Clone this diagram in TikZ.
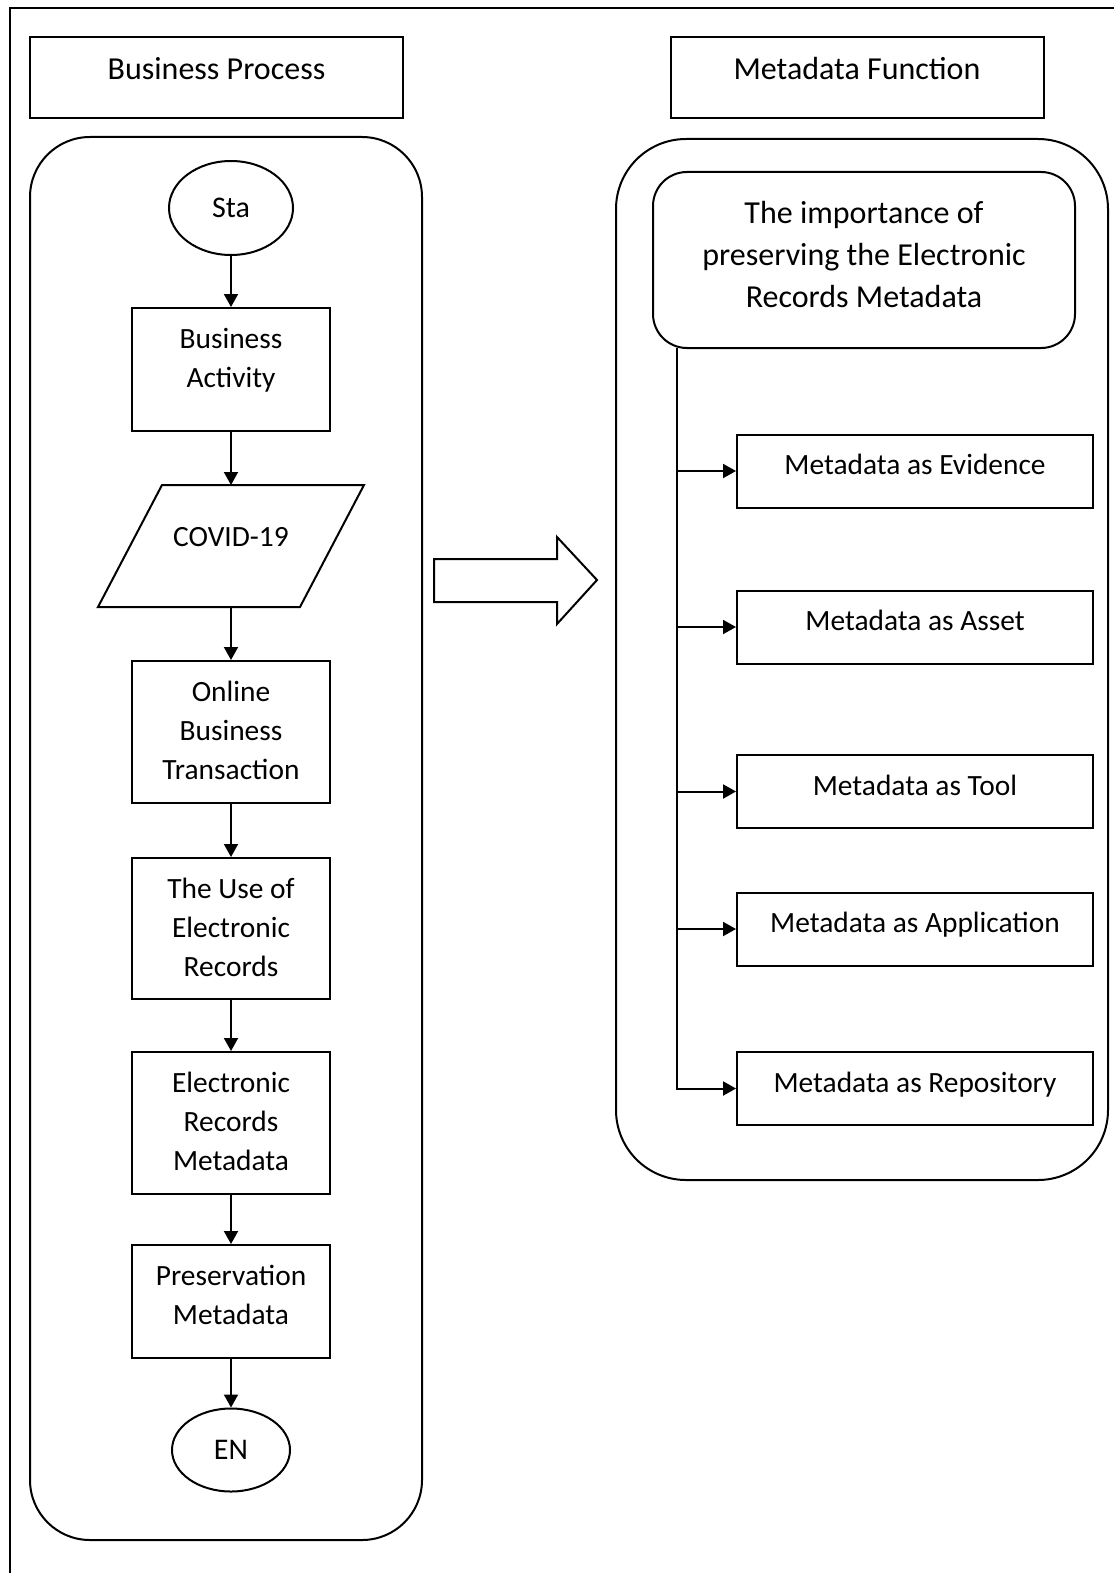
\documentclass[tikz,border=0pt]{standalone}
\usepackage{fontspec}
\setmainfont{Carlito}
\usetikzlibrary{shapes.geometric,arrows.meta}

\begin{document}
\begin{tikzpicture}[x=0.5pt, y=-0.5pt, line width=1pt,
  every node/.style={font=\fontsize{16pt}{19.5pt}\selectfont},
  procbox/.style={draw, rectangle, minimum width=99pt, inner sep=0pt},
  funcbox/.style={draw, rectangle, minimum width=178pt, minimum height=36.5pt, inner sep=0pt},
  headbox/.style={draw, rectangle, minimum width=186.5pt, minimum height=40.5pt, inner sep=0pt},
  boxtext/.style={below=10pt, inner sep=0pt, align=center, font=\fontsize{14.7pt}{19.5pt}\selectfont},
  headtext/.style={below=10pt, inner sep=0pt},
  term/.style={draw, ellipse, inner sep=0pt, font=\fontsize{15pt}{19.5pt}\selectfont},
  flow/.style={-{Triangle[length=6.5pt,width=7pt]}}]
\useasboundingbox (0,0) rectangle (1113,1573);

% Page frame
\draw[line width=1.2pt] (1130,8) -- (10,8) -- (10,1590);

% Headers
\node[headbox, label={[headtext]north:Business Process}] (bp) at (216.5,77.5) {};
\node[headbox, label={[headtext]north:Metadata Function}] (mf) at (857,77.5) {};

% Swimlanes
\draw[rounded corners=30pt] (30,137) rectangle (422,1540);
\draw[rounded corners=35pt] (616,139) rectangle (1108,1180);

% Business process
\node[term, minimum width=62pt, minimum height=47pt] (sta) at (231,208) {Sta};
\node[procbox, minimum height=61.5pt, label={[boxtext]north:Business\\Activity}] (act) at (231,369.5) {};
\node[minimum width=100pt, minimum height=60pt, inner sep=0pt] (cov) at (231,546) {};
\node[below=20.5pt, inner sep=0pt, font=\fontsize{14.7pt}{19.5pt}\selectfont] (covtxt) at (cov.north) {COVID-19};
\draw ([xshift=16pt]cov.north west) -- ([xshift=16pt]cov.north east)
  -- ([xshift=-16pt]cov.south east) -- ([xshift=-16pt]cov.south west) -- cycle;
\node[procbox, minimum height=71pt, label={[boxtext]north:Online\\Business\\Transaction}] (onl) at (231,732) {};
\node[procbox, minimum height=70.5pt, label={[boxtext]north:The Use of\\Electronic\\Records}] (use) at (231,928.5) {};
\node[procbox, minimum height=71pt, label={[boxtext]north:Electronic\\Records\\Metadata}] (erm) at (231,1123) {};
\node[procbox, minimum height=56.5pt, label={[boxtext]north:Preservation\\Metadata}] (pre) at (231,1301.5) {};
\node[term, minimum width=59pt, minimum height=41.5pt] (en) at (231,1450) {EN};

\draw[flow] (sta) -- (act);
\draw[flow] (act) -- (cov);
\draw[flow] (cov) -- (onl);
\draw[flow] (onl) -- (use);
\draw[flow] (use) -- (erm);
\draw[flow] (erm) -- (pre);
\draw[flow] (pre) -- (en);

% Block arrow
\draw (434,559) -- (557,559) -- (557,537) -- (597,580) -- (557,624) -- (557,602) -- (434,602) -- cycle;

% Metadata function
\node[draw, rounded corners=17pt, minimum width=211pt, minimum height=88pt, align=center,
  font=\fontsize{16pt}{21pt}\selectfont,
  label={[inner sep=0pt, align=center, font=\fontsize{16pt}{21pt}\selectfont, yshift=2.5pt]center:The importance of\\preserving the Electronic\\Records Metadata}] (imp) at (864,260) {};
\coordinate (trunk) at (677,348);

\node[funcbox, label={[boxtext]north:Metadata as Evidence}] (evid) at (915,471) {};
\node[funcbox, label={[boxtext]north:Metadata as Asset}] (asset) at (915,627) {};
\node[funcbox, label={[boxtext]north:Metadata as Tool}] (tool) at (915,791.5) {};
\node[funcbox, label={[boxtext]north:Metadata as Application}] (app) at (915,929) {};
\node[funcbox, label={[boxtext]north:Metadata as Repository}] (repo) at (915,1088.5) {};

\draw[flow] (trunk) |- (repo.west);
\foreach \n in {evid,asset,tool,app}
  \draw[flow] (trunk |- \n.west) -- (\n.west);
\end{tikzpicture}
\end{document}
